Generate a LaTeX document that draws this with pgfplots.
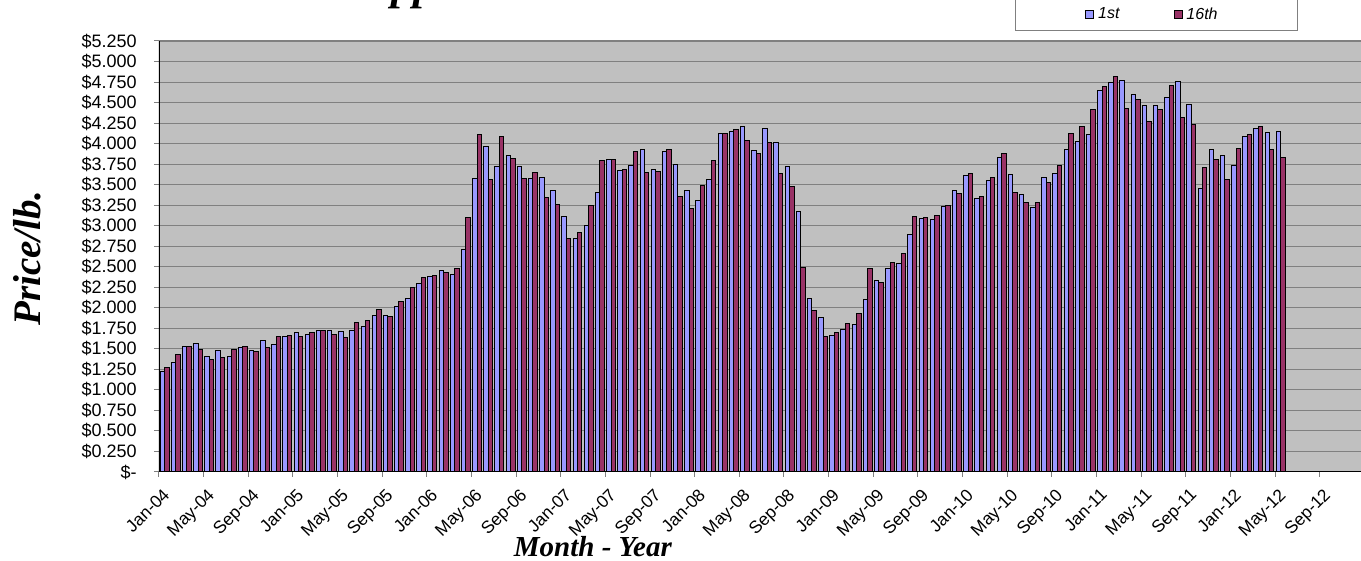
\documentclass[border=0pt]{standalone}
\usepackage{pgfplots}
\pgfplotsset{compat=1.18}
\usepackage{pgfplotstable}
\usepackage{fontspec}
\setmainfont{Liberation Serif}
\newfontfamily\arial{Liberation Sans}
\definecolor{barA}{HTML}{9999FF}
\definecolor{barB}{HTML}{993366}
\definecolor{plotbg}{HTML}{C0C0C0}
\definecolor{gridc}{HTML}{808080}

\pgfplotstableread{
m a b
0 1.228 1.268
1 1.329 1.431
2 1.528 1.528
3 1.561 1.492
4 1.407 1.374
5 1.476 1.390
6 1.407 1.492
7 1.512 1.524
8 1.480 1.472
9 1.606 1.520
10 1.553 1.646
11 1.646 1.667
12 1.699 1.650
13 1.679 1.703
14 1.720 1.720
15 1.724 1.679
16 1.707 1.638
17 1.724 1.821
18 1.768 1.846
19 1.907 1.984
20 1.911 1.894
21 2.012 2.073
22 2.118 2.248
23 2.297 2.366
24 2.386 2.398
25 2.459 2.427
26 2.411 2.476
27 2.715 3.106
28 3.573 4.114
29 3.963 3.565
30 3.720 4.081
31 3.858 3.813
32 3.720 3.573
33 3.573 3.654
34 3.593 3.341
35 3.431 3.260
36 3.110 2.846
37 2.841 2.919
38 3.000 3.244
39 3.407 3.793
40 3.801 3.801
41 3.667 3.687
42 3.736 3.902
43 3.931 3.650
44 3.683 3.663
45 3.902 3.931
46 3.740 3.354
47 3.431 3.211
48 3.305 3.492
49 3.565 3.793
50 4.126 4.126
51 4.142 4.175
52 4.211 4.041
53 3.915 3.874
54 4.179 4.016
55 4.008 3.630
56 3.720 3.472
57 3.171 2.496
58 2.118 1.967
59 1.882 1.654
60 1.667 1.703
61 1.736 1.805
62 1.793 1.927
63 2.106 2.476
64 2.329 2.305
65 2.476 2.557
66 2.541 2.659
67 2.898 3.114
68 3.089 3.106
69 3.077 3.126
70 3.228 3.248
71 3.427 3.398
72 3.610 3.638
73 3.329 3.354
74 3.549 3.589
75 3.829 3.878
76 3.618 3.407
77 3.378 3.285
78 3.220 3.280
79 3.589 3.528
80 3.638 3.736
81 3.931 4.122
82 4.020 4.211
83 4.110 4.419
84 4.645 4.690
85 4.742 4.819
86 4.770 4.423
87 4.593 4.540
88 4.464 4.270
89 4.464 4.411
90 4.565 4.702
91 4.758 4.323
92 4.480 4.238
93 3.451 3.711
94 3.931 3.801
95 3.858 3.561
96 3.728 3.943
97 4.085 4.106
98 4.179 4.203
99 4.134 3.931
100 4.142 3.829
}\copperdata

\begin{document}
\begin{tikzpicture}[x=0.5pt,y=0.5pt]
\useasboundingbox (0,0) rectangle (1361,561);
\node[anchor=base west, inner sep=0pt, font=\fontsize{22}{26}\selectfont\bfseries\itshape] at (340,561.5) {Copper Prices};
\begin{axis}[
  at={(79.5pt,44.5pt)}, anchor=south west,
  scale only axis, width=601pt, height=215.5pt,
  xmin=0, xmax=107.7, ymin=0, ymax=5.25,
  axis line style={draw=none},
  axis background/.style={fill=plotbg},
  ymajorgrids, grid style={gridc, line width=0.5pt},
  ytick={0,0.25,0.5,0.75,1,1.25,1.5,1.75,2,2.25,2.5,2.75,3,3.25,3.5,3.75,4,4.25,4.5,4.75,5,5.25},
  yticklabels={\$-,\$0.250,\$0.500,\$0.750,\$1.000,\$1.250,\$1.500,\$1.750,\$2.000,\$2.250,\$2.500,\$2.750,\$3.000,\$3.250,\$3.500,\$3.750,\$4.000,\$4.250,\$4.500,\$4.750,\$5.000,\$5.250},
  xtick={0,4,...,104},
  xticklabels={Jan-04,May-04,Sep-04,Jan-05,May-05,Sep-05,Jan-06,May-06,Sep-06,Jan-07,May-07,Sep-07,Jan-08,May-08,Sep-08,Jan-09,May-09,Sep-09,Jan-10,May-10,Sep-10,Jan-11,May-11,Sep-11,Jan-12,May-12,Sep-12},
  tick align=outside, tick pos=left,
  major tick length=2.5pt,
  every tick/.style={gridc, line width=0.5pt},
  yticklabel style={font=\arial\fontsize{9}{10}\selectfont, inner sep=0pt, xshift=-8.5pt},
  xticklabel style={font=\arial\fontsize{8.7}{10}\selectfont, inner sep=0pt, xshift=1.5pt, yshift=-5pt, rotate=45, anchor=north east},
  xlabel={Month - Year},
  xlabel style={at={(axis description cs:0.361,-0.174)}, anchor=center, font=\fontsize{14.5}{16}\selectfont\bfseries\itshape},
  ylabel={Price/lb.},
  ylabel style={at={(axis description cs:-0.1098,0.4965)}, anchor=center, font=\fontsize{19.5}{21}\selectfont\bfseries\itshape},
  legend columns=2,
  legend style={at={(axis description cs:0.7121,1.0232)}, anchor=south west, draw=gridc, fill=white, line width=0.4pt,
    inner xsep=31pt, inner ysep=2.2pt, font=\arial\itshape\fontsize{8}{9.6}\selectfont,
    /tikz/every even column/.append style={column sep=21pt}},
]
\addplot[ybar, bar width=0.4, bar shift=0pt, fill=barA, draw=black, line width=0.5pt,
  legend image code/.code={\path (0pt,0pt); \draw[fill=barA, draw=black, line width=0.4pt] (4pt,-2pt) rectangle (8pt,2pt);}]
  table[x expr=\thisrow{m}+0.3, y=a] {\copperdata};
\addlegendentry{1st}
\addplot[ybar, bar width=0.4, bar shift=0pt, fill=barB, draw=black, line width=0.5pt,
  legend image code/.code={\path (0pt,0pt); \draw[fill=barB, draw=black, line width=0.4pt] (4pt,-2pt) rectangle (8pt,2pt);}]
  table[x expr=\thisrow{m}+0.7, y=b] {\copperdata};
\addlegendentry{16th\kern7pt\null}
\draw[gridc, line width=0.6pt] (rel axis cs:0,1) -- (rel axis cs:1,1);
\draw[black, line width=0.6pt] (rel axis cs:0,0) -- (rel axis cs:0,1);
\draw[black, line width=0.6pt] (rel axis cs:0,0) -- (rel axis cs:1,0);
\end{axis}
\end{tikzpicture}
\end{document}
